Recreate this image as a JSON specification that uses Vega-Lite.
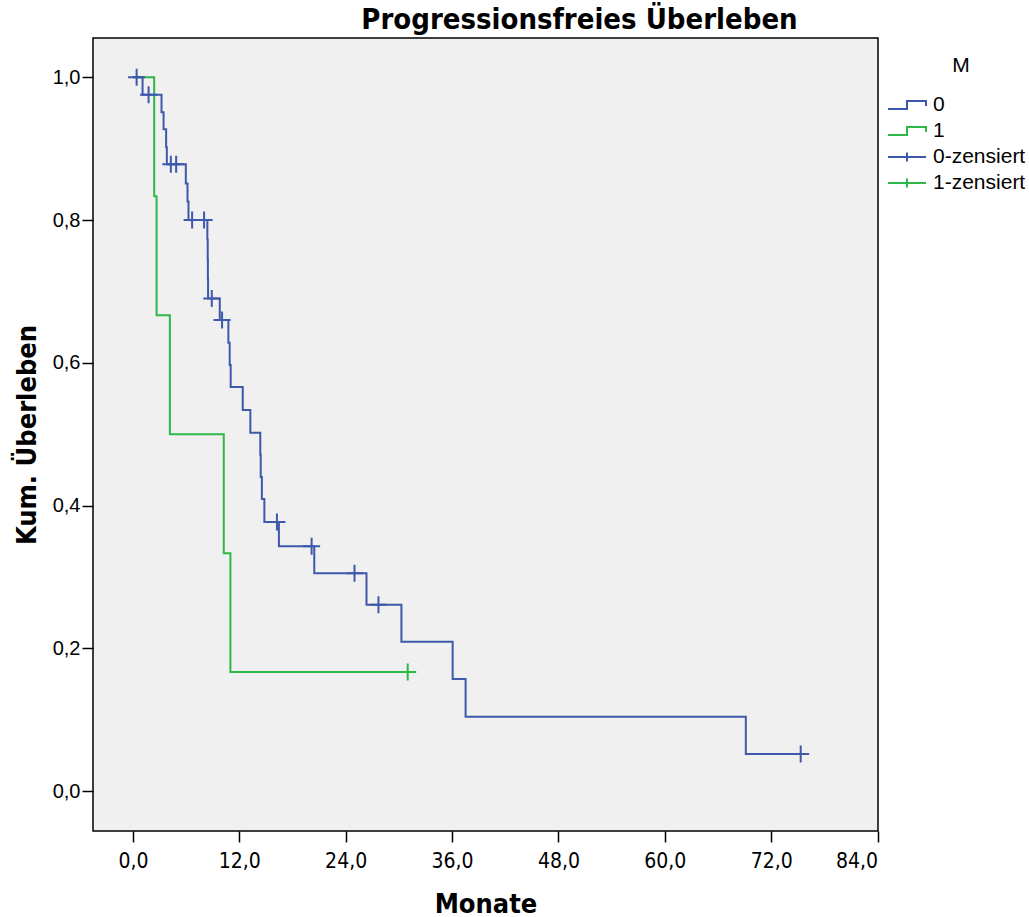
{
  "$schema": "https://vega.github.io/schema/vega-lite/v6.json",
  "width": 785,
  "height": 793,
  "autosize": {"type": "none"},
  "padding": {"left": 93, "top": 38, "right": 151, "bottom": 86},
  "background": "white",
  "title": {
    "text": "Progressionsfreies Überleben",
    "font": "DejaVu Sans Condensed, sans-serif",
    "fontSize": 29,
    "fontWeight": "bold",
    "color": "black",
    "anchor": "middle",
    "frame": "group",
    "dx": 94,
    "offset": 3
  },
  "config": {
    "view": {"fill": "#f0f0f0", "stroke": "black", "strokeWidth": 1.5},
    "axis": {
      "grid": false,
      "domain": false,
      "tickColor": "black",
      "tickWidth": 1.5,
      "tickSize": 11,
      "labelColor": "black",
      "titleColor": "black"
    }
  },
  "datasets": {
    "curve": [
      {"leg": "0", "t": 0, "s": 1.0},
      {"leg": "0", "t": 1.09, "s": 0.9756},
      {"leg": "0", "t": 3.23, "s": 0.951},
      {"leg": "0", "t": 3.46, "s": 0.927},
      {"leg": "0", "t": 3.75, "s": 0.902},
      {"leg": "0", "t": 3.83, "s": 0.878},
      {"leg": "0", "t": 5.97, "s": 0.851},
      {"leg": "0", "t": 6.16, "s": 0.826},
      {"leg": "0", "t": 6.27, "s": 0.8},
      {"leg": "0", "t": 8.4, "s": 0.7726},
      {"leg": "0", "t": 8.44, "s": 0.745},
      {"leg": "0", "t": 8.46, "s": 0.717},
      {"leg": "0", "t": 8.48, "s": 0.69},
      {"leg": "0", "t": 9.8, "s": 0.66},
      {"leg": "0", "t": 10.77, "s": 0.628},
      {"leg": "0", "t": 10.92, "s": 0.597},
      {"leg": "0", "t": 11.03, "s": 0.566},
      {"leg": "0", "t": 12.39, "s": 0.534},
      {"leg": "0", "t": 13.25, "s": 0.502},
      {"leg": "0", "t": 14.37, "s": 0.471},
      {"leg": "0", "t": 14.42, "s": 0.44},
      {"leg": "0", "t": 14.55, "s": 0.409},
      {"leg": "0", "t": 14.83, "s": 0.377},
      {"leg": "0", "t": 16.47, "s": 0.343},
      {"leg": "0", "t": 20.46, "s": 0.305},
      {"leg": "0", "t": 26.35, "s": 0.261},
      {"leg": "0", "t": 30.29, "s": 0.209},
      {"leg": "0", "t": 36.07, "s": 0.157},
      {"leg": "0", "t": 37.53, "s": 0.104},
      {"leg": "0", "t": 69.14, "s": 0.052},
      {"leg": "0", "t": 75.33, "s": 0.052},
      {"leg": "1", "t": 0, "s": 1.0},
      {"leg": "1", "t": 2.4, "s": 0.8333},
      {"leg": "1", "t": 2.67, "s": 0.6667},
      {"leg": "1", "t": 4.17, "s": 0.5},
      {"leg": "1", "t": 10.25, "s": 0.3333},
      {"leg": "1", "t": 11.0, "s": 0.1667},
      {"leg": "1", "t": 31.0, "s": 0.1667}
    ],
    "censor": [
      {"leg": "0-zensiert", "t": 0.42, "s": 1.0},
      {"leg": "0-zensiert", "t": 1.77, "s": 0.9756},
      {"leg": "0-zensiert", "t": 4.28, "s": 0.878},
      {"leg": "0-zensiert", "t": 4.88, "s": 0.878},
      {"leg": "0-zensiert", "t": 6.68, "s": 0.8},
      {"leg": "0-zensiert", "t": 8.03, "s": 0.8},
      {"leg": "0-zensiert", "t": 8.9, "s": 0.69},
      {"leg": "0-zensiert", "t": 10.06, "s": 0.66},
      {"leg": "0-zensiert", "t": 16.25, "s": 0.377},
      {"leg": "0-zensiert", "t": 20.16, "s": 0.343},
      {"leg": "0-zensiert", "t": 25.0, "s": 0.305},
      {"leg": "0-zensiert", "t": 27.7, "s": 0.261},
      {"leg": "0-zensiert", "t": 75.33, "s": 0.052},
      {"leg": "1-zensiert", "t": 31.0, "s": 0.1667}
    ]
  },
  "encoding": {
    "x": {
      "field": "t",
      "type": "quantitative",
      "scale": {"domain": [-4.5, 84.05], "nice": false, "zero": false},
      "axis": {
        "values": [0, 12, 24, 36, 48, 60, 72, 84],
        "labelExpr": "replace(format(datum.value, '.1f'), '.', ',')",
        "labelFont": "DejaVu Sans Condensed, sans-serif",
        "labelFontSize": 21,
        "labelPadding": 8,
        "title": "Monate",
        "titleFont": "DejaVu Sans Condensed, sans-serif",
        "titleFontSize": 27,
        "titleFontWeight": "bold",
        "titlePadding": 20
      }
    },
    "y": {
      "field": "s",
      "type": "quantitative",
      "scale": {"domain": [-0.056, 1.055], "nice": false, "zero": false},
      "axis": {
        "values": [0, 0.2, 0.4, 0.6, 0.8, 1.0],
        "labelExpr": "replace(format(datum.value, '.1f'), '.', ',')",
        "labelFont": "Liberation Sans, Arial, sans-serif",
        "labelFontSize": 20,
        "labelPadding": 2,
        "title": "Kum. Überleben",
        "titleFont": "DejaVu Sans Condensed, sans-serif",
        "titleFontSize": 27,
        "titleFontWeight": "bold",
        "titlePadding": 11
      }
    },
    "color": {
      "field": "leg",
      "type": "nominal",
      "scale": {"domain": ["0", "1", "0-zensiert", "1-zensiert"], "range": ["#3e58ac", "#2eb848", "#3e58ac", "#2eb848"]},
      "legend": {
        "title": "M",
        "orient": "none",
        "legendX": 803,
        "legendY": 17,
        "titleFont": "Liberation Sans, Arial, sans-serif",
        "titleFontSize": 21,
        "titleFontWeight": "normal",
        "titleAnchor": "middle",
        "titlePadding": 18,
        "labelFont": "Liberation Sans, Arial, sans-serif",
        "labelFontSize": 21,
        "labelColor": "black",
        "titleColor": "black",
        "labelOffset": 15,
        "symbolSize": 400,
        "symbolStrokeWidth": 2,
        "symbolOpacity": 1,
        "rowPadding": 5,
        "encode": {
          "symbols": {
            "update": {
              "shape": {"signal": "indexof(datum.value, 'zensiert') >= 0 ? 'M-1.9,0H1.9M0,-0.45V0.45' : 'M-1.9,0.4H0V-0.4H1.9V0.1'"},
              "fill": {"value": "transparent"}
            }
          }
        }
      }
    }
  },
  "layer": [
    {
      "data": {"name": "curve"},
      "transform": [{"filter": "datum.leg === '1'"}],
      "mark": {"type": "line", "interpolate": "step-after", "strokeWidth": 2}
    },
    {
      "data": {"name": "curve"},
      "transform": [{"filter": "datum.leg === '0'"}],
      "mark": {"type": "line", "interpolate": "step-after", "strokeWidth": 2}
    },
    {
      "data": {"name": "censor"},
      "mark": {"type": "point", "shape": "M-1,0H1M0,-1V1", "filled": false, "size": 290, "strokeWidth": 2, "opacity": 1}
    }
  ]
}
